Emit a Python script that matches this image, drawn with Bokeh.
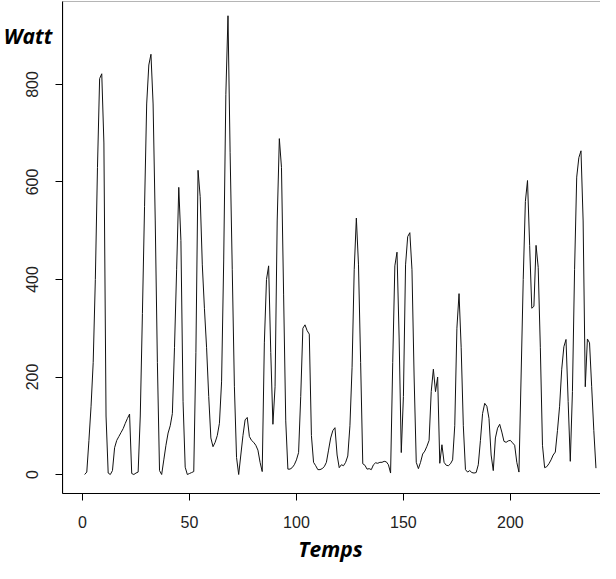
from bokeh.plotting import figure
from bokeh.models import FixedTicker, Label, BoxAnnotation
from bokeh.embed import file_html
from bokeh.resources import INLINE

# Power (Watt), one value per time step 1..240
watts = [
    0, 5, 70, 140, 230, 400, 630, 812, 822, 680,
    120, 3, 0, 8, 55, 70, 78, 86, 94, 105,
    115, 124, 2, 0, 3, 5, 120, 330, 550, 760,
    840, 862, 760, 520, 230, 8, 0, 30, 60, 85,
    100, 125, 260, 420, 589, 480, 150, 15, 0, 2,
    4, 6, 250, 624, 570, 430, 340, 260, 160, 75,
    57, 66, 80, 105, 190, 440, 780, 941, 660, 420,
    180, 35, 0, 40, 80, 112, 117, 78, 70, 66,
    60, 50, 25, 6, 270, 400, 428, 250, 103, 180,
    520, 689, 630, 370, 110, 11, 11, 14, 20, 30,
    45, 160, 300, 307, 295, 288, 80, 25, 18, 10,
    10, 12, 16, 25, 50, 75, 90, 96, 40, 14,
    20, 18, 25, 38, 100, 220, 420, 526, 430, 230,
    22, 19, 11, 12, 10, 20, 24, 23, 25, 25,
    27, 26, 20, 3, 230, 428, 456, 280, 45, 160,
    430, 488, 496, 420, 200, 25, 12, 25, 42, 48,
    58, 70, 170, 216, 170, 200, 23, 61, 25, 19,
    18, 22, 30, 100, 300, 371, 260, 100, 10, 5,
    8, 4, 3, 4, 20, 70, 125, 146, 140, 115,
    40, 8, 75, 95, 103, 87, 68, 66, 69, 70,
    65, 60, 25, 5, 200, 400, 560, 603, 470, 341,
    345, 470, 425, 260, 60, 14, 16, 22, 30, 40,
    46, 90, 140, 216, 262, 277, 150, 27, 170, 420,
    610, 650, 664, 520, 180, 278, 270, 180, 90, 13,
]
temps = list(range(1, len(watts) + 1))

x_ticks = [0, 50, 100, 150, 200]
y_ticks = [0, 200, 400, 600, 800]
x_title = "Temps"
y_title = "Watt"

# whole canvas is the frame; the R-style box sits inside it
X_START, X_END = -38.33, 242.12
Y_START, Y_END = -182.56, 972.3
BOX_LEFT, BOX_BOTTOM, BOX_TOP = -9.2, -38.97, 970.3

p = figure(width=600, height=563, output_backend="svg", toolbar_location=None,
           x_range=(X_START, X_END), y_range=(Y_START, Y_END),
           min_border_left=0, min_border_right=0, min_border_top=0,
           min_border_bottom=0)
p.outline_line_color = None
p.grid.visible = False
p.background_fill_color = "white"
p.border_fill_color = "white"

p.add_layout(BoxAnnotation(left=BOX_LEFT, right=X_END + 20, bottom=BOX_BOTTOM,
                           top=BOX_TOP, fill_alpha=0, fill_color=None,
                           line_color="black", line_width=1))

p.line(temps, watts, line_color="#111111", line_width=1)

for ax, ticks in ((p.xaxis[0], x_ticks), (p.yaxis[0], y_ticks)):
    ax.ticker = FixedTicker(ticks=ticks)
    ax.axis_line_color = "black"
    ax.axis_line_width = 1
    ax.major_tick_line_color = "black"
    ax.major_tick_out = 7
    ax.major_tick_in = 0
    ax.minor_tick_line_color = None
    ax.major_label_text_font = "Liberation Sans"
    ax.major_label_text_font_size = "16px"
    ax.major_label_text_color = "#222222"

p.xaxis.fixed_location = BOX_BOTTOM
p.xaxis.bounds = (BOX_LEFT, X_END)
p.yaxis.fixed_location = BOX_LEFT
p.yaxis.bounds = (BOX_BOTTOM, BOX_TOP)
p.xaxis.major_label_standoff = 16
p.yaxis.major_label_standoff = 18
p.yaxis.major_label_orientation = "vertical"

p.add_layout(Label(x=-36.8, y=900, text=y_title,
                   text_font="Open Sans", text_font_style="bold italic",
                   text_font_size="21px", text_color="black",
                   text_align="left", text_baseline="alphabetic"))
p.add_layout(Label(x=115.9, y=-153, text=x_title,
                   text_font="Open Sans", text_font_style="bold italic",
                   text_font_size="21px", text_color="black",
                   text_align="center", text_baseline="alphabetic"))

open("out.html", "w").write(file_html(p, INLINE))
